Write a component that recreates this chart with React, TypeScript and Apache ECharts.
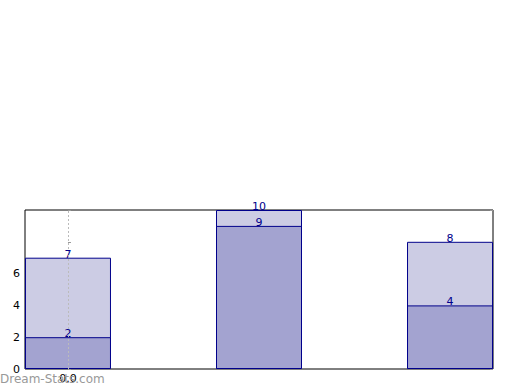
import React, { useEffect, useRef } from "react";
import * as echarts from "echarts";

const xPositions = [0, 1, 2];
const upperValues = [7, 10, 8];
const lowerValues = [2, 9, 4];
const xTickValues = [0];
const yLabelValues = [0, 2, 4, 6];

export default function App() {
  const ref = useRef<HTMLDivElement>(null);
  useEffect(() => {
    if (!ref.current) return;
    const chart = echarts.init(ref.current, undefined, { renderer: "svg" });
    const font = "DejaVu Sans";
    const label = {
      show: true,
      position: "top",
      distance: -2,
      color: "#00008b",
      fontSize: 11,
      fontFamily: font,
    };
    chart.setOption({
      animation: false,
      grid: {
        left: 25,
        right: 27,
        top: 210,
        bottom: 21,
        show: true,
        borderColor: "#000",
        borderWidth: 1,
        backgroundColor: "transparent",
      },
      xAxis: {
        type: "value",
        min: -0.225,
        max: 2.225,
        axisLine: { show: false },
        splitLine: { show: false },
        axisTick: {
          show: true,
          inside: true,
          length: 3,
          customValues: xTickValues,
          lineStyle: { color: "#999" },
        },
        axisLabel: {
          customValues: xTickValues,
          formatter: (v: number) => v.toFixed(1),
          color: "#000",
          fontSize: 11,
          fontFamily: font,
          margin: 4,
        },
      },
      yAxis: [
        {
          type: "value",
          min: 0,
          max: 10,
          interval: 2,
          axisLine: { show: false },
          splitLine: { show: false },
          axisTick: {
            show: true,
            inside: true,
            length: 3,
            lineStyle: { color: "#999" },
          },
          axisLabel: {
            color: "#000",
            fontSize: 11,
            fontFamily: font,
            margin: 5,
            formatter: (v: number) => (yLabelValues.includes(v) ? String(v) : ""),
          },
        },
        {
          type: "value",
          position: "right",
          min: 0,
          max: 10,
          interval: 2,
          axisLine: { show: false },
          splitLine: { show: false },
          axisTick: {
            show: true,
            inside: true,
            length: 3,
            lineStyle: { color: "#999" },
          },
          axisLabel: { show: false },
        },
      ],
      series: [
        {
          type: "bar",
          name: "upper",
          data: xPositions.map((x, i) => [x, upperValues[i]]),
          barWidth: 86,
          barGap: "-100%",
          itemStyle: { color: "#ccccE4", borderColor: "#00008b", borderWidth: 1 },
          label,
          z: 2,
          markLine: {
            silent: true,
            symbol: "none",
            label: { show: false },
            lineStyle: { color: "#bbb", type: [2, 2], width: 1 },
            data: xTickValues.map((v) => ({ xAxis: v })),
            z: 5,
          },
        },
        {
          type: "bar",
          name: "lower",
          data: xPositions.map((x, i) => [x, lowerValues[i]]),
          barWidth: 86,
          barGap: "-100%",
          itemStyle: { color: "#a3a3d0", borderColor: "#00008b", borderWidth: 1 },
          label,
          z: 3,
        },
      ],
      graphic: [
        {
          type: "text",
          left: 0,
          top: 373,
          style: {
            text: "Dream-Stats.com",
            fill: "#999",
            font: "12px 'DejaVu Sans'",
          },
          z: 10,
        },
      ],
    });
    return () => chart.dispose();
  }, []);
  return <div ref={ref} style={{ width: 520, height: 390, position: "absolute", left: 0, top: 0 }} />;
}
